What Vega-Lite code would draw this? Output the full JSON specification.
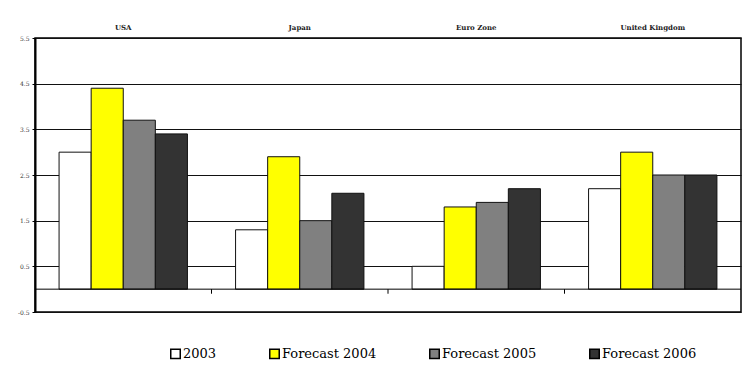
{
  "$schema": "https://vega.github.io/schema/vega-lite/v6.json",
  "width": 706,
  "height": 274,
  "autosize": {"type": "none"},
  "padding": {"left": 35, "top": 38, "right": 15, "bottom": 64},
  "background": "white",
  "config": {
    "view": {"stroke": "black", "strokeWidth": 1.5}
  },
  "datasets": {
    "bars": [
      {"country": "USA", "series": "2003", "value": 3.0},
      {"country": "USA", "series": "Forecast 2004", "value": 4.4},
      {"country": "USA", "series": "Forecast 2005", "value": 3.7},
      {"country": "USA", "series": "Forecast 2006", "value": 3.4},
      {"country": "Japan", "series": "2003", "value": 1.3},
      {"country": "Japan", "series": "Forecast 2004", "value": 2.9},
      {"country": "Japan", "series": "Forecast 2005", "value": 1.5},
      {"country": "Japan", "series": "Forecast 2006", "value": 2.1},
      {"country": "Euro Zone", "series": "2003", "value": 0.5},
      {"country": "Euro Zone", "series": "Forecast 2004", "value": 1.8},
      {"country": "Euro Zone", "series": "Forecast 2005", "value": 1.9},
      {"country": "Euro Zone", "series": "Forecast 2006", "value": 2.2},
      {"country": "United Kingdom", "series": "2003", "value": 2.2},
      {"country": "United Kingdom", "series": "Forecast 2004", "value": 3.0},
      {"country": "United Kingdom", "series": "Forecast 2005", "value": 2.5},
      {"country": "United Kingdom", "series": "Forecast 2006", "value": 2.5}
    ],
    "separators": [
      {"country": "Japan", "top": 0, "bottom": -0.1},
      {"country": "Euro Zone", "top": 0, "bottom": -0.1},
      {"country": "United Kingdom", "top": 0, "bottom": -0.1}
    ],
    "zero": [{"level": 0}]
  },
  "layer": [
    {
      "data": {"name": "bars"},
      "mark": {"type": "bar", "stroke": "#111111", "strokeWidth": 1},
      "encoding": {
        "x": {
          "field": "country",
          "type": "nominal",
          "scale": {"domain": ["USA", "Japan", "Euro Zone", "United Kingdom"], "paddingInner": 0, "paddingOuter": 0},
          "axis": {
            "orient": "top",
            "title": null,
            "labelAngle": 0,
            "ticks": false,
            "domain": false,
            "labelFont": "DejaVu Serif",
            "labelFontWeight": "bold",
            "labelFontSize": 7,
            "labelColor": "#222222",
            "labelPadding": 8
          }
        },
        "xOffset": {
          "field": "series",
          "type": "nominal",
          "scale": {"domain": ["2003", "Forecast 2004", "Forecast 2005", "Forecast 2006"], "paddingInner": 0, "paddingOuter": 0.75}
        },
        "y": {
          "field": "value",
          "type": "quantitative",
          "scale": {"domain": [-0.5, 5.5], "nice": false, "zero": false},
          "axis": {
            "title": null,
            "values": [-0.5, 0.5, 1.5, 2.5, 3.5, 4.5, 5.5],
            "labelExpr": "replace(format(datum.value, '.1f'), '\u2212', '-')",
            "labelFont": "DejaVu Serif",
            "labelFontSize": 6,
            "labelColor": "#333333",
            "labelPadding": 3,
            "domainColor": "black",
            "domainWidth": 2,
            "tickColor": "black",
            "tickSize": 3,
            "grid": true,
            "gridColor": "#111111",
            "gridWidth": 1
          }
        },
        "color": {
          "field": "series",
          "type": "nominal",
          "scale": {
            "domain": ["2003", "Forecast 2004", "Forecast 2005", "Forecast 2006"],
            "range": ["#ffffff", "#ffff00", "#808080", "#333333"]
          },
          "legend": {
            "orient": "none",
            "legendX": 134,
            "legendY": 309,
            "direction": "horizontal",
            "title": null,
            "symbolType": "square",
            "symbolSize": 90,
            "symbolStrokeColor": "black",
            "symbolStrokeWidth": 1.5,
            "symbolOpacity": 1,
            "labelFont": "DejaVu Serif",
            "labelFontSize": 13,
            "labelColor": "black",
            "labelOffset": 1,
            "columnPadding": 49,
            "padding": 0
          }
        }
      }
    },
    {
      "data": {"name": "zero"},
      "mark": {"type": "rule", "color": "black", "strokeWidth": 1},
      "encoding": {"y": {"field": "level", "type": "quantitative"}}
    },
    {
      "data": {"name": "separators"},
      "mark": {"type": "rule", "color": "black", "strokeWidth": 1},
      "encoding": {
        "x": {"field": "country", "type": "nominal", "bandPosition": 0},
        "y": {"field": "top", "type": "quantitative"},
        "y2": {"field": "bottom"}
      }
    }
  ]
}
